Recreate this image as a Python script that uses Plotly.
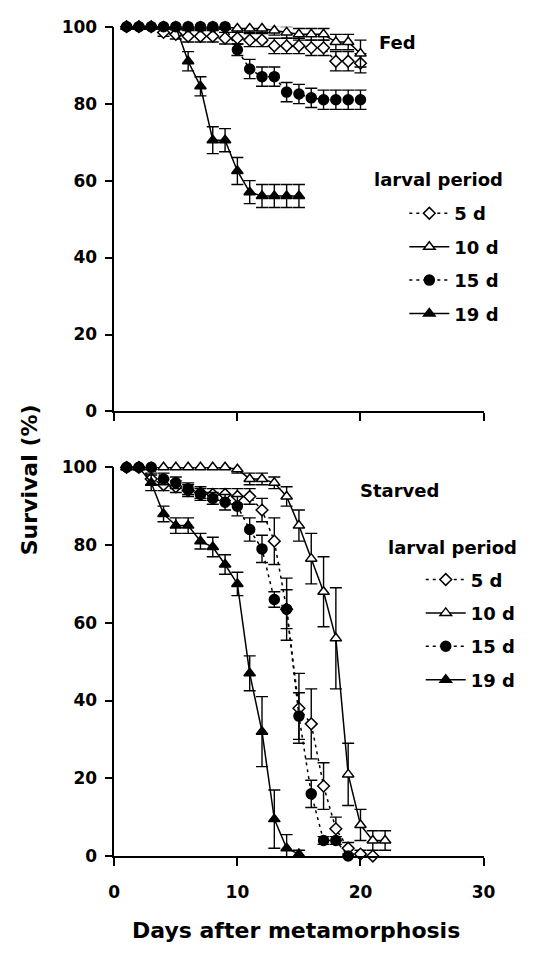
import plotly.graph_objects as go

# Survival after metamorphosis (%), by larval period, mean with error bars
groups = ["5 d", "10 d", "15 d", "19 d"]

# Fed
fed_days_5 = list(range(1, 21))
fed_5 = [100, 100, 100, 98.5, 98, 97.5, 97.5, 97.5, 97, 97, 96.5, 96.5, 95, 95, 95, 94.5, 94.5, 91, 91, 90.5]
fed_5_err = [0, 0, 0, 1, 1.2, 1.5, 1.5, 1.5, 1.5, 1.5, 1.7, 1.7, 2, 2, 2, 2, 2, 2.5, 2.5, 2.5]

fed_days_10 = list(range(1, 21))
fed_10 = [100, 100, 100, 100, 100, 100, 100, 100, 100, 99.5, 99.5, 99.5, 99, 98.5, 98, 98, 98, 96, 96, 93]
fed_10_err = [0, 0, 0, 0, 0, 0, 0, 0, 0, 1, 1, 1, 1.2, 1.5, 1.5, 1.5, 1.5, 2, 2, 3.5]

fed_days_15 = list(range(1, 21))
fed_15 = [100, 100, 100, 100, 100, 100, 100, 100, 100, 94, 89, 87, 87, 83, 82.5, 81.5, 81, 81, 81, 81]
fed_15_err = [0, 0, 0, 0, 0, 0, 0, 0, 0, 1.5, 2.5, 2.5, 2.5, 2.5, 2.5, 2.5, 2.5, 2.5, 2.5, 2.5]

fed_days_19 = list(range(1, 16))
fed_19 = [100, 100, 100, 100, 100, 91, 84.5, 70.5, 70.5, 62.5, 57, 56, 56, 56, 56]
fed_19_err = [0, 0, 0, 0, 0, 2.5, 2.5, 3.5, 3, 3.5, 3, 3, 3, 3, 3]

# Starved
st_days_5 = list(range(1, 22))
st_5 = [100, 100, 97, 95.5, 95, 94, 93.5, 93, 93, 92.5, 92.5, 89, 81, 63.5, 38, 34, 18, 7, 2, 0.5, 0]
st_5_err = [0, 0, 1.5, 1.5, 1.5, 1.5, 1.5, 1.5, 1.5, 2, 2, 3, 6, 8, 9, 9, 6, 3, 1.5, 1, 0]

st_days_10 = list(range(1, 23))
st_10 = [100, 100, 100, 100, 100, 100, 100, 100, 100, 99.5, 97, 97, 96, 92.5, 85, 76.5, 68, 56, 21, 8, 4, 4]
st_10_err = [0, 0, 0, 0, 0, 0, 0, 0, 0, 1, 1.5, 1.5, 1.5, 2.5, 4, 6.5, 9, 13, 8, 4, 2.5, 2.5]

st_days_15 = list(range(1, 20))
st_15 = [100, 100, 100, 97, 96, 94.5, 93, 92, 91, 90, 84, 79, 66, 63.5, 36, 16, 4, 4, 0]
st_15_err = [0, 0, 0, 1.5, 1.5, 1.5, 1.5, 1.5, 2, 2.5, 3, 3.5, 2, 5, 6, 3.5, 1, 1, 0]

st_days_19 = list(range(1, 16))
st_19 = [100, 100, 96, 88, 85, 85, 81, 79.5, 75, 70, 47, 32, 9.5, 2, 0.5]
st_19_err = [0, 0, 2, 2, 2, 2, 2, 2.5, 2.5, 3, 4.5, 9, 7.5, 3.5, 1]

x_ticks = [0, 10, 20, 30]
y_ticks = [0, 20, 40, 60, 80, 100]

FONT = "DejaVu Sans"
INK = "black"

styles = {
    "5 d": dict(symbol="diamond", fill="white", dash="3px,4px", size=9),
    "10 d": dict(symbol="triangle-up", fill="white", dash="solid", size=10),
    "15 d": dict(symbol="circle", fill=INK, dash="3px,4px", size=10),
    "19 d": dict(symbol="triangle-up", fill=INK, dash="solid", size=10),
}


def err_arr(errs):
    return [e if e > 0 else None for e in errs]


def series(name, days, vals, errs, xa, ya, legend):
    st = styles[name]
    return go.Scatter(
        x=days, y=vals, name=name, mode="lines+markers",
        xaxis=xa, yaxis=ya, legend=legend, legendgroup=legend + name,
        line=dict(color=INK, width=1.5, dash=st["dash"]),
        marker=dict(symbol=st["symbol"], size=st["size"], color=st["fill"],
                    line=dict(color=INK, width=1.5)),
        error_y=dict(type="data", array=err_arr(errs), symmetric=True,
                     color=INK, thickness=1.4, width=6),
        cliponaxis=False,
    )


fig = go.Figure()
fed = [(fed_days_5, fed_5, fed_5_err), (fed_days_10, fed_10, fed_10_err),
       (fed_days_15, fed_15, fed_15_err), (fed_days_19, fed_19, fed_19_err)]
starved = [(st_days_5, st_5, st_5_err), (st_days_10, st_10, st_10_err),
           (st_days_15, st_15, st_15_err), (st_days_19, st_19, st_19_err)]
for name, (d, v, e) in zip(groups, fed):
    fig.add_trace(series(name, d, v, e, "x", "y", "legend"))
for name, (d, v, e) in zip(groups, starved):
    fig.add_trace(series(name, d, v, e, "x2", "y2", "legend2"))

tick_font = dict(family=FONT, size=17, color=INK, weight="bold")
xdom = [112 / 542, 494 / 542]
axis_common = dict(showline=True, linecolor=INK, linewidth=1.5, ticks="outside",
                   ticklen=8, tickwidth=1.5, tickcolor=INK, showgrid=False,
                   zeroline=False, tickfont=tick_font)

legend_font = dict(family=FONT, size=18, color=INK, weight="bold")


def label(text, px, py, size=18, angle=0):
    return dict(text=text, x=px / 542, y=1 - py / 962, xref="paper", yref="paper",
                xanchor="center", yanchor="middle", showarrow=False, textangle=angle,
                font=dict(size=size, weight="bold"))


fig.update_layout(
    width=542, height=962, autosize=False,
    margin=dict(l=0, r=0, t=0, b=0),
    paper_bgcolor="white", plot_bgcolor="white",
    font=dict(family=FONT, color=INK),
    xaxis=dict(domain=xdom, range=[0, 30], tickvals=x_ticks, showticklabels=False,
               anchor="y", **axis_common),
    yaxis=dict(domain=[1 - 410 / 962, 1 - 17 / 962], range=[0, 100], tickvals=y_ticks,
               anchor="x", ticklabelstandoff=4, **axis_common),
    xaxis2=dict(domain=xdom, range=[0, 30], tickvals=x_ticks, anchor="y2",
                ticklabelstandoff=12, **axis_common),
    yaxis2=dict(domain=[1 - 864 / 962, 1 - 467 / 962], range=[0, 100], tickvals=y_ticks,
                anchor="x2", ticklabelstandoff=4, **axis_common),
    legend=dict(x=412 / 542, y=1 - 189 / 962, xanchor="left", yanchor="top",
                bgcolor="rgba(0,0,0,0)", itemwidth=40, tracegroupgap=7,
                font=legend_font),
    legend2=dict(x=429 / 542, y=1 - 563 / 962, xanchor="left", yanchor="top",
                 bgcolor="rgba(0,0,0,0)", itemwidth=40, tracegroupgap=7,
                 font=legend_font),
    annotations=[
        label("Fed", 405, 33),
        label("Starved", 407, 491),
        label("larval period", 447, 173),
        label("larval period", 462, 549),
        label("Survival (%)", 24, 480, size=22, angle=-90),
        label("Days after metamorphosis", 300, 940, size=22),
    ],
)

fig.write_html("out.html")
